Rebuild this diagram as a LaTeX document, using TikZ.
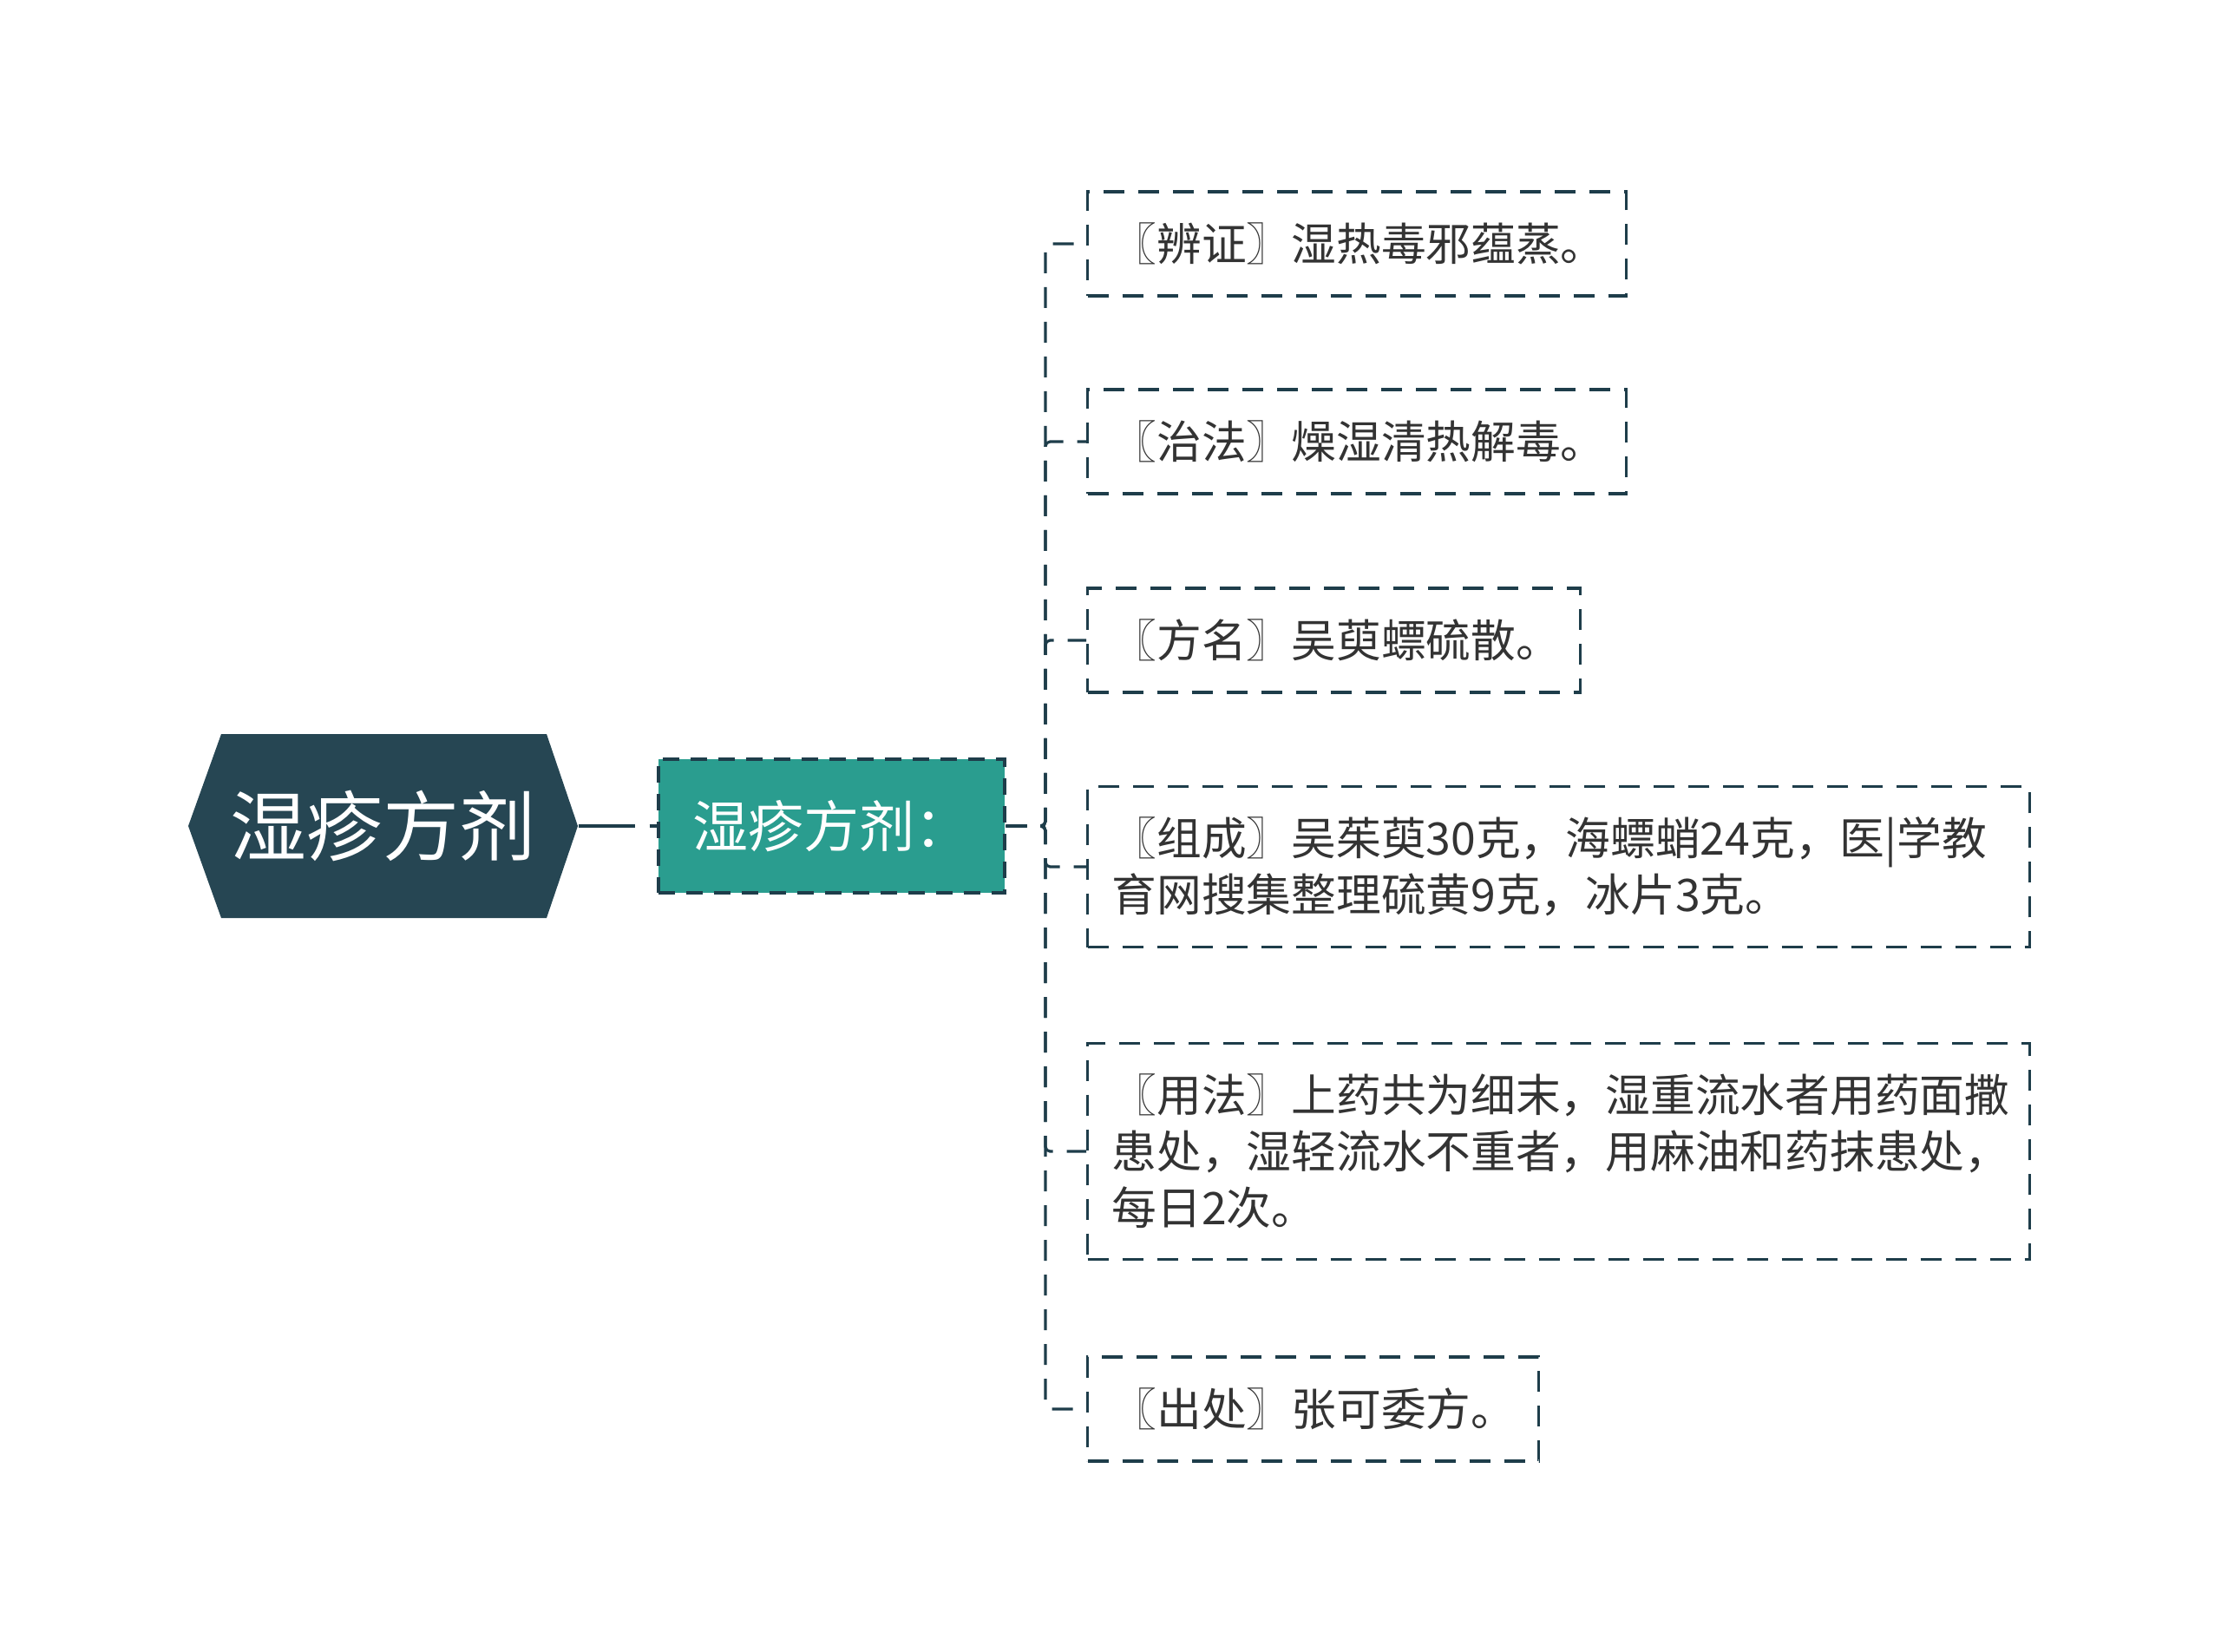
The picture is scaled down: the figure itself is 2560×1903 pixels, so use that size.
\documentclass[tikz,border=0pt]{standalone}
\usepackage{fontspec}
\setmainfont{Noto Sans CJK SC}
\definecolor{hexc}{HTML}{264653}
\definecolor{grn}{HTML}{2A9D8F}
\definecolor{dk}{HTML}{1E3D4A}
\definecolor{txt}{HTML}{333333}
\begin{document}
\begin{tikzpicture}[x=0.375pt,y=-0.375pt,
  lnk/.style={draw=dk, line width=1.2pt},
  dsh/.style={dash pattern=on 9pt off 6pt},
  child/.style={draw=dk, line width=1.2pt, dsh, anchor=west, align=left,
    inner xsep=10.5pt, inner ysep=0pt, font=\fontsize{19.4}{24.4}\selectfont, text=txt},
]
\useasboundingbox (0,0) rectangle (2560,1903);
\fill[white] (0,0) rectangle (2560,1903);
% root hexagon
\fill[hexc] (217,952) -- (255,846) -- (630,846) -- (666,952) -- (630,1058) -- (255,1058) -- cycle;
\node[minimum width=168.4pt, minimum height=79.5pt, inner sep=0pt, text=white,
  font=\fontsize{33}{40}\selectfont] (root) at (441.5,952) {湿疹方剂};
% second level
\node[fill=grn, draw=dk, line width=1.2pt, dash pattern=on 7pt off 5pt,
  minimum width=149.6pt, minimum height=57.75pt, inner sep=0pt, text=white,
  font=\fontsize{24}{30}\selectfont] (mid) at (958.5,952) {湿疹方剂：};
% children
\node[child, text width=211.9pt, minimum height=45pt] (c1) at (1252,281) {〖辨证〗湿热毒邪蕴蒸。};
\node[child, text width=211.9pt, minimum height=45pt] (c2) at (1252,509) {〖治法〗燥湿清热解毒。};
\node[child, text width=192pt, minimum height=45pt] (c3) at (1252,738) {〖方名〗吴萸螵硫散。};
\node[child, text width=386.2pt, minimum height=69.4pt] (c4) at (1252,999) {〖组成〗吴茱萸30克，海螵蛸24克，医|学教\\育网搜集整理硫黄9克，冰片3克。};
\node[child, text width=386.2pt, minimum height=93.4pt] (c5) at (1252,1327) {〖用法〗上药共为细末，湿重流水者用药面撒\\患处，湿轻流水不重者，用麻油和药抹患处，\\每日2次。};
\node[child, text width=174pt, minimum height=45pt] (c6) at (1252,1624) {〖出处〗张可委方。};
% connectors
\draw[lnk, dash pattern=on 24.4pt off 6.4pt] (root.east) -- (mid.west);
\coordinate (trunk) at (1205,952);
\foreach \c in {c1,c2,c3,c4,c5,c6}
  \draw[lnk, dsh, rounded corners=2pt] (mid.east) -- (trunk) |- (\c.west);
\end{tikzpicture}
\end{document}
